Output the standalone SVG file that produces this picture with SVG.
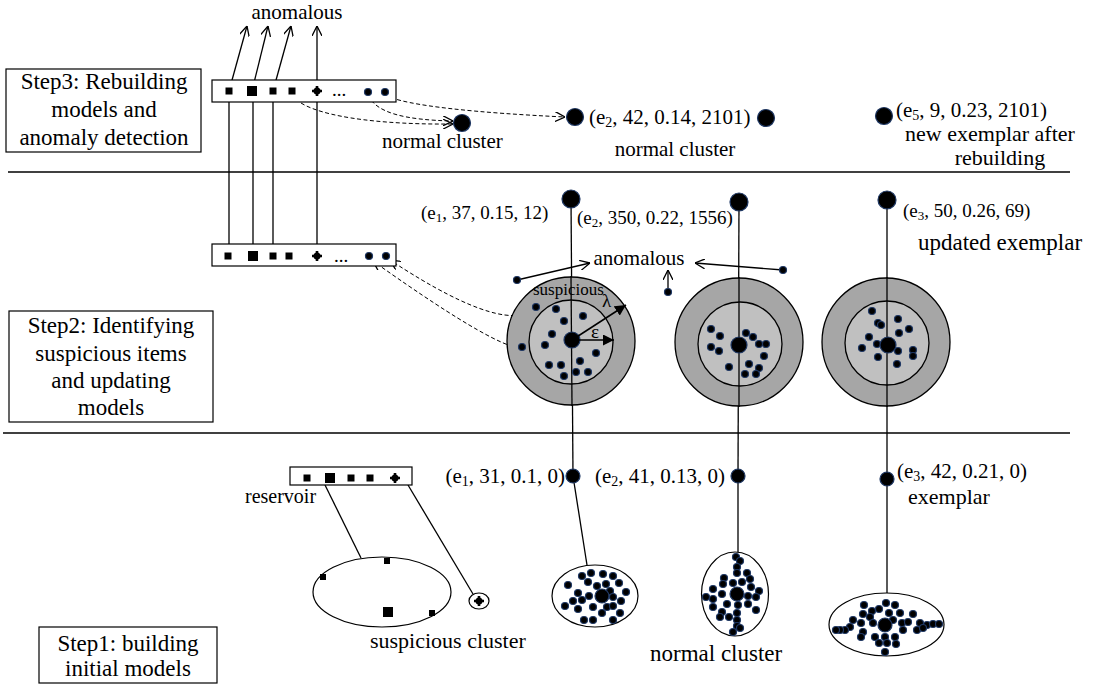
<svg xmlns="http://www.w3.org/2000/svg" width="1093" height="693" viewBox="0 0 1093 693">
<style>
text{font-family:"Liberation Serif","Times New Roman",serif;fill:#000}
.t23{font-size:23px}
.t21{font-size:21px}
.t19{font-size:19px}
.box{fill:#fff;stroke:#000;stroke-width:1.2}
.ln{stroke:#000;stroke-width:1.3;fill:none}
.ds{stroke:#000;stroke-width:1;fill:none;stroke-dasharray:4 2.5}
.d{fill:#000;stroke:#1f3864;stroke-width:1.2}
.sq{fill:#000}
.outer{fill:#a6a6a6;stroke:#000;stroke-width:1.3}
.inner{fill:#c0c0c0;stroke:#000;stroke-width:1.3}
.ell{fill:#fff;stroke:#000;stroke-width:1.2}
</style>
<defs>
<marker id="open" viewBox="0 0 10 10" refX="10" refY="5" markerWidth="10" markerHeight="10" markerUnits="userSpaceOnUse" orient="auto"><path d="M0,0 L10,5 L0,10" fill="none" stroke="#000" stroke-width="1.3"/></marker>
<marker id="fill" viewBox="0 0 10 10" refX="10" refY="5" markerWidth="11" markerHeight="11" markerUnits="userSpaceOnUse" orient="auto"><path d="M0,0 L10,5 L0,10 Z" fill="#000"/></marker>
<g id="plus"><circle r="3.5" fill="#000"/><path d="M-5,0 H5 M0,-5 V5" stroke="#000" stroke-width="2.6"/></g>
</defs>

<g id="separators">
<line x1="8" y1="172" x2="1070" y2="172" class="ln"/>
<line x1="3" y1="433" x2="1070" y2="433" class="ln"/>
</g>

<g id="step3">
<rect x="6" y="69" width="195" height="83" class="box"/>
<text class="t23" text-anchor="middle" x="104" y="89">Step3: Rebuilding</text>
<text class="t23" text-anchor="middle" x="104" y="117">models and</text>
<text class="t23" text-anchor="middle" x="104" y="145">anomaly detection</text>
</g>
<g id="step2">
<rect x="9" y="311" width="204" height="111" class="box"/>
<text class="t23" text-anchor="middle" x="111" y="333">Step2: Identifying</text>
<text class="t23" text-anchor="middle" x="111" y="361">suspicious items</text>
<text class="t23" text-anchor="middle" x="111" y="388">and updating</text>
<text class="t23" text-anchor="middle" x="111" y="415">models</text>
</g>
<g id="step1">
<rect x="39" y="627" width="178" height="56" class="box"/>
<text class="t23" text-anchor="middle" x="128" y="651">Step1: building</text>
<text class="t23" text-anchor="middle" x="128" y="676">initial models</text>
</g>

<g id="connectors">
<line x1="229" y1="91" x2="247" y2="26" class="ln" marker-end="url(#open)"/>
<line x1="252" y1="91" x2="268" y2="26" class="ln" marker-end="url(#open)"/>
<line x1="273" y1="91" x2="291" y2="26" class="ln" marker-end="url(#open)"/>
<line x1="317" y1="91" x2="317" y2="26" class="ln" marker-end="url(#open)"/>
<line x1="229" y1="91" x2="229" y2="256" class="ln"/>
<line x1="253" y1="91" x2="253" y2="256" class="ln"/>
<line x1="273" y1="91" x2="273" y2="256" class="ln"/>
<line x1="317" y1="91" x2="317" y2="256" class="ln"/>
<path d="M292,94 C300,112 360,125 453,124" class="ds" marker-end="url(#open)"/>
<path d="M368,95 C376,113 405,120 453,121" class="ds" marker-end="url(#open)"/>
<path d="M385,95 C405,106 480,113 565,117" class="ds" marker-end="url(#open)"/>
<path d="M533,309 C518,323 478,318 390,260" class="ds" marker-end="url(#open)"/>
<path d="M519,348 C505,346 470,330 373,261" class="ds" marker-end="url(#open)"/>
<line x1="571" y1="198" x2="573" y2="476" class="ln"/>
<line x1="739" y1="201" x2="738" y2="476" class="ln"/>
<line x1="887" y1="199" x2="887" y2="479" class="ln"/>
<line x1="573" y1="476" x2="587" y2="565" class="ln"/>
<line x1="738" y1="476" x2="738" y2="552" class="ln"/>
<line x1="887" y1="479" x2="887" y2="593" class="ln"/>
<line x1="325" y1="485" x2="361" y2="558" class="ln"/>
<line x1="408" y1="485" x2="473" y2="594" class="ln"/>
<line x1="517" y1="280" x2="590" y2="263" class="ln" marker-end="url(#open)"/>
<line x1="783" y1="270" x2="695" y2="263" class="ln" marker-end="url(#open)"/>
<line x1="668" y1="291" x2="668" y2="270" class="ln" marker-end="url(#open)"/>
</g>

<g id="reservoir3">
<rect x="212" y="80" width="184" height="22" class="box"/>
<rect x="225.5" y="87.5" width="7" height="7" class="sq"/>
<rect x="247" y="86" width="10" height="10" class="sq"/>
<rect x="269.5" y="87.5" width="7" height="7" class="sq"/>
<rect x="288.5" y="87.5" width="7" height="7" class="sq"/>
<use href="#plus" x="317" y="91"/>
<text class="t19" x="332" y="96">...</text>
<circle cx="368" cy="92" r="3.5" class="d"/>
<circle cx="385" cy="92" r="3.5" class="d"/>
</g>
<text class="t21" x="297" y="19" text-anchor="middle">anomalous</text>

<g id="normal-cluster-top">
<circle cx="462" cy="123" r="8.5" class="d"/>
<text class="t21" x="382" y="148">normal cluster</text>
</g>

<g id="e2-top">
<circle cx="575" cy="117" r="8.5" class="d"/>
<text class="t21" x="589" y="124">(e<tspan font-size="14" dy="3">2</tspan><tspan dy="-3">, 42, 0.14, 2101)</tspan></text>
<circle cx="766" cy="118" r="8.5" class="d"/>
<text class="t21" x="675" y="156" text-anchor="middle">normal cluster</text>
</g>
<g id="e5-top">
<circle cx="884" cy="116" r="8.5" class="d"/>
<text class="t21" x="896" y="117">(e<tspan font-size="14" dy="3">5</tspan><tspan dy="-3">, 9, 0.23, 2101)</tspan></text>
<text x="990" y="141" font-size="22" text-anchor="middle">new exemplar after</text>
<text x="1000" y="165" font-size="22" text-anchor="middle">rebuilding</text>
</g>

<g id="reservoir2">
<rect x="212" y="244" width="184" height="22" class="box"/>
<rect x="224.5" y="252.5" width="7" height="7" class="sq"/>
<rect x="248" y="251" width="10" height="10" class="sq"/>
<rect x="269.5" y="252.5" width="7" height="7" class="sq"/>
<rect x="285.5" y="252.5" width="7" height="7" class="sq"/>
<use href="#plus" x="317" y="256"/>
<text class="t19" x="334" y="262">...</text>
<circle cx="369" cy="256" r="3.5" class="d"/>
<circle cx="386" cy="256" r="3.5" class="d"/>
</g>

<g id="ring1">
<circle cx="571" cy="341" r="64" class="outer"/>
<circle cx="571" cy="342" r="42" class="inner"/>
<line x1="571" y1="276" x2="572" y2="406" class="ln"/>
<g>
<circle cx="556" cy="309" r="3.5" class="d"/><circle cx="583" cy="316" r="3.5" class="d"/><circle cx="564" cy="321" r="3.5" class="d"/><circle cx="552" cy="334" r="3.5" class="d"/><circle cx="545" cy="345" r="3.5" class="d"/><circle cx="596" cy="353" r="3.5" class="d"/><circle cx="580" cy="361" r="3.5" class="d"/><circle cx="549" cy="365" r="3.5" class="d"/><circle cx="561" cy="365" r="3.5" class="d"/><circle cx="564" cy="376" r="3.5" class="d"/><circle cx="576" cy="372" r="3.5" class="d"/><circle cx="588" cy="372" r="3.5" class="d"/>
<circle cx="536" cy="307" r="3.5" class="d"/><circle cx="522" cy="347" r="3.5" class="d"/>
</g>
<circle cx="572" cy="340" r="8" class="d"/>
<line x1="572" y1="340" x2="614" y2="340" stroke="#000" stroke-width="1.5" marker-end="url(#fill)"/>
<line x1="572" y1="340" x2="626" y2="305" stroke="#000" stroke-width="1.5" marker-end="url(#fill)"/>
<text x="591" y="338" font-size="19">ε</text>
<text x="602" y="307" font-size="19">λ</text>
<text x="533" y="295" font-size="17">suspicious</text>
</g>
<circle cx="517" cy="280" r="3.5" class="d"/>
<circle cx="668" cy="292" r="3.5" class="d"/>
<circle cx="783" cy="270" r="3.5" class="d"/>
<text class="t21" x="639" y="265" text-anchor="middle">anomalous</text>

<g id="ring2">
<circle cx="739" cy="342" r="64" class="outer"/>
<circle cx="740" cy="344" r="42" class="inner"/>
<line x1="739" y1="277" x2="739" y2="407" class="ln"/>
<circle cx="711" cy="329" r="3.5" class="d"/><circle cx="720" cy="336" r="3.5" class="d"/><circle cx="711" cy="347" r="3.5" class="d"/><circle cx="719" cy="351" r="3.5" class="d"/><circle cx="746" cy="333" r="3.5" class="d"/><circle cx="753" cy="337" r="3.5" class="d"/><circle cx="759" cy="344" r="3.5" class="d"/><circle cx="766" cy="344" r="3.5" class="d"/><circle cx="764" cy="356" r="3.5" class="d"/><circle cx="749" cy="364" r="3.5" class="d"/><circle cx="759" cy="368" r="3.5" class="d"/><circle cx="729" cy="367" r="3.5" class="d"/><circle cx="745" cy="374" r="3.5" class="d"/><circle cx="756" cy="374" r="3.5" class="d"/>
<circle cx="739" cy="345" r="8" class="d"/>
</g>

<g id="ring3">
<circle cx="886" cy="342" r="64" class="outer"/>
<circle cx="887" cy="343" r="42" class="inner"/>
<line x1="887" y1="277" x2="887" y2="407" class="ln"/>
<circle cx="872" cy="311" r="3.5" class="d"/><circle cx="878" cy="323" r="3.5" class="d"/><circle cx="881" cy="325" r="3.5" class="d"/><circle cx="898" cy="319" r="3.5" class="d"/><circle cx="909" cy="329" r="3.5" class="d"/><circle cx="899" cy="333" r="3.5" class="d"/><circle cx="869" cy="337" r="3.5" class="d"/><circle cx="862" cy="348" r="3.5" class="d"/><circle cx="877" cy="344" r="3.5" class="d"/><circle cx="898" cy="351" r="3.5" class="d"/><circle cx="913" cy="350" r="3.5" class="d"/><circle cx="913" cy="356" r="3.5" class="d"/><circle cx="878" cy="357" r="3.5" class="d"/><circle cx="897" cy="364" r="3.5" class="d"/>
<circle cx="888" cy="345" r="8" class="d"/>
</g>

<g id="e1-mid">
<circle cx="571" cy="199" r="9" class="d"/>
<text class="t19" x="421" y="219">(e<tspan font-size="13" dy="3">1</tspan><tspan dy="-3">, 37, 0.15, 12)</tspan></text>
</g>
<g id="e2-mid">
<circle cx="739" cy="202" r="9" class="d"/>
<text class="t19" x="577" y="224">(e<tspan font-size="13" dy="3">2</tspan><tspan dy="-3">, 350, 0.22, 1556)</tspan></text>
</g>
<g id="e3-mid">
<circle cx="887" cy="200" r="9" class="d"/>
<text class="t19" x="903" y="217">(e<tspan font-size="13" dy="3">3</tspan><tspan dy="-3">, 50, 0.26, 69)</tspan></text>
<text x="918" y="250" font-size="23">updated exemplar</text>
</g>

<g id="reservoir1">
<rect x="290" y="467" width="122" height="18" class="box"/>
<rect x="303.5" y="474.5" width="7" height="7" class="sq"/>
<rect x="325" y="473" width="10" height="10" class="sq"/>
<rect x="347.5" y="474.5" width="7" height="7" class="sq"/>
<rect x="366.5" y="474.5" width="7" height="7" class="sq"/>
<use href="#plus" x="395" y="478"/>
<text x="245" y="503" font-size="20">reservoir</text>
</g>

<g id="suspicious-cluster">
<ellipse cx="382" cy="592" rx="69" ry="35" class="ell"/>
<rect x="384" y="558" width="6" height="6" class="sq"/>
<rect x="320" y="574" width="6" height="6" class="sq"/>
<rect x="383" y="607" width="10" height="10" class="sq"/>
<rect x="429" y="610" width="6" height="6" class="sq"/>
<ellipse cx="479" cy="601" rx="10" ry="8" class="ell"/>
<use href="#plus" x="479" y="601"/>
<text x="370" y="648" font-size="22">suspicious cluster</text>
</g>

<g id="e1-bottom">
<circle cx="573" cy="476" r="7" class="d"/>
<text class="t21" x="565" y="483" text-anchor="end">(e<tspan font-size="14" dy="3">1</tspan><tspan dy="-3">, 31, 0.1, 0)</tspan></text>
<ellipse cx="595" cy="596" rx="43" ry="31" class="ell"/>
<circle cx="582" cy="576" r="3.5" class="d"/><circle cx="591" cy="573" r="3.5" class="d"/><circle cx="603" cy="574" r="3.5" class="d"/><circle cx="613" cy="576" r="3.5" class="d"/><circle cx="568" cy="585" r="3.5" class="d"/><circle cx="588" cy="582" r="3.5" class="d"/><circle cx="597" cy="586" r="3.5" class="d"/><circle cx="606" cy="584" r="3.5" class="d"/><circle cx="619" cy="583" r="3.5" class="d"/><circle cx="578" cy="593" r="3.5" class="d"/><circle cx="589" cy="596" r="3.5" class="d"/><circle cx="610" cy="591" r="3.5" class="d"/><circle cx="626" cy="592" r="3.5" class="d"/><circle cx="573" cy="601" r="3.5" class="d"/><circle cx="582" cy="600" r="3.5" class="d"/><circle cx="613" cy="597" r="3.5" class="d"/><circle cx="621" cy="601" r="3.5" class="d"/><circle cx="565" cy="606" r="3.5" class="d"/><circle cx="578" cy="609" r="3.5" class="d"/><circle cx="593" cy="607" r="3.5" class="d"/><circle cx="607" cy="607" r="3.5" class="d"/><circle cx="613" cy="606" r="3.5" class="d"/><circle cx="620" cy="613" r="3.5" class="d"/><circle cx="602" cy="613" r="3.5" class="d"/><circle cx="584" cy="620" r="3.5" class="d"/><circle cx="593" cy="620" r="3.5" class="d"/><circle cx="613" cy="620" r="3.5" class="d"/>
<circle cx="602" cy="596" r="7" class="d"/>
</g>

<g id="e2-bottom">
<circle cx="738" cy="476" r="7" class="d"/>
<text class="t21" x="595" y="483">(e<tspan font-size="14" dy="3">2</tspan><tspan dy="-3">, 41, 0.13, 0)</tspan></text>
<ellipse cx="735" cy="594" rx="33.5" ry="42" class="ell"/>
<circle cx="736" cy="557" r="3.5" class="d"/><circle cx="740" cy="561" r="3.5" class="d"/><circle cx="737" cy="567" r="3.5" class="d"/><circle cx="737" cy="573" r="3.5" class="d"/><circle cx="747" cy="573" r="3.5" class="d"/><circle cx="724" cy="578" r="3.5" class="d"/><circle cx="723" cy="584" r="3.5" class="d"/><circle cx="733" cy="583" r="3.5" class="d"/><circle cx="742" cy="582" r="3.5" class="d"/><circle cx="750" cy="579" r="3.5" class="d"/><circle cx="713" cy="589" r="3.5" class="d"/><circle cx="722" cy="594" r="3.5" class="d"/><circle cx="751" cy="587" r="3.5" class="d"/><circle cx="759" cy="591" r="3.5" class="d"/><circle cx="706" cy="597" r="3.5" class="d"/><circle cx="713" cy="599" r="3.5" class="d"/><circle cx="727" cy="604" r="3.5" class="d"/><circle cx="748" cy="596" r="3.5" class="d"/><circle cx="756" cy="597" r="3.5" class="d"/><circle cx="713" cy="607" r="3.5" class="d"/><circle cx="738" cy="605" r="3.5" class="d"/><circle cx="748" cy="604" r="3.5" class="d"/><circle cx="722" cy="612" r="3.5" class="d"/><circle cx="737" cy="613" r="3.5" class="d"/><circle cx="756" cy="610" r="3.5" class="d"/><circle cx="720" cy="617" r="3.5" class="d"/><circle cx="729" cy="617" r="3.5" class="d"/><circle cx="737" cy="620" r="3.5" class="d"/><circle cx="737" cy="626" r="3.5" class="d"/><circle cx="733" cy="632" r="3.5" class="d"/><circle cx="740" cy="628" r="3.5" class="d"/>
<circle cx="737" cy="594" r="7" class="d"/>
<text x="650" y="661" font-size="23">normal cluster</text>
</g>

<g id="e3-bottom">
<circle cx="887" cy="479" r="7" class="d"/>
<text class="t21" x="897" y="478">(e<tspan font-size="14" dy="3">3</tspan><tspan dy="-3">, 42, 0.21, 0)</tspan></text>
<text x="908" y="504" font-size="22">exemplar</text>
<ellipse cx="886.5" cy="624.5" rx="57.5" ry="31.5" class="ell"/>
<circle cx="864" cy="605" r="3.5" class="d"/><circle cx="886" cy="603" r="3.5" class="d"/><circle cx="895" cy="605" r="3.5" class="d"/><circle cx="872" cy="611" r="3.5" class="d"/><circle cx="879" cy="609" r="3.5" class="d"/><circle cx="889" cy="613" r="3.5" class="d"/><circle cx="900" cy="613" r="3.5" class="d"/><circle cx="863" cy="614" r="3.5" class="d"/><circle cx="870" cy="617" r="3.5" class="d"/><circle cx="853" cy="620" r="3.5" class="d"/><circle cx="861" cy="623" r="3.5" class="d"/><circle cx="873" cy="623" r="3.5" class="d"/><circle cx="893" cy="620" r="3.5" class="d"/><circle cx="902" cy="623" r="3.5" class="d"/><circle cx="913" cy="614" r="3.5" class="d"/><circle cx="908" cy="622" r="3.5" class="d"/><circle cx="920" cy="623" r="3.5" class="d"/><circle cx="927" cy="625" r="3.5" class="d"/><circle cx="933" cy="624" r="3.5" class="d"/><circle cx="939" cy="624" r="3.5" class="d"/><circle cx="917" cy="630" r="3.5" class="d"/><circle cx="903" cy="630" r="3.5" class="d"/><circle cx="895" cy="637" r="3.5" class="d"/><circle cx="885" cy="637" r="3.5" class="d"/><circle cx="875" cy="637" r="3.5" class="d"/><circle cx="863" cy="632" r="3.5" class="d"/><circle cx="861" cy="637" r="3.5" class="d"/><circle cx="850" cy="627" r="3.5" class="d"/><circle cx="845" cy="630" r="3.5" class="d"/><circle cx="840" cy="630" r="3.5" class="d"/><circle cx="836" cy="630" r="3.5" class="d"/><circle cx="879" cy="643" r="3.5" class="d"/><circle cx="887" cy="643" r="3.5" class="d"/><circle cx="896" cy="644" r="3.5" class="d"/><circle cx="885" cy="652" r="3.5" class="d"/><circle cx="923" cy="628" r="3.5" class="d"/>
<circle cx="885" cy="625" r="7" class="d"/>
</g>
</svg>
